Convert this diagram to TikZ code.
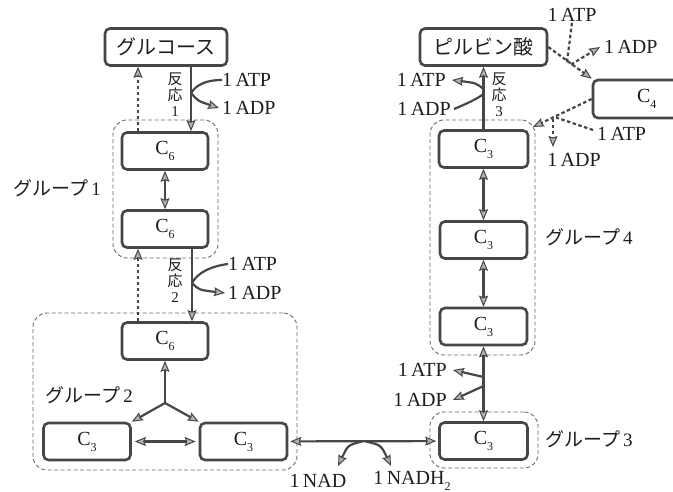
\documentclass[tikz,border=0pt]{standalone}
\usepackage{fontspec}
\setmainfont{Liberation Serif}
\newfontfamily\cjk{Noto Sans CJK JP}
\usetikzlibrary{arrows.meta}
\definecolor{linec}{RGB}{70,70,70}
\definecolor{textc}{RGB}{30,30,30}
\newcommand\sub[1]{\raisebox{-0.3em}{\fontsize{12}{12}\selectfont #1}}
\begin{document}
\begin{tikzpicture}[x=1pt,y=-1pt,
  >={Stealth[length=11pt,width=9pt,inset=1.5pt,fill=gray!60,line width=1pt]},
  box/.style={draw=linec, line width=2.6pt, rounded corners=5pt, inner sep=0pt,
    minimum height=37pt, text=textc, font=\fontsize{20}{20}\selectfont},
  namebox/.style={box, font=\cjk\fontsize{20}{20}\selectfont},
  grp/.style={draw=linec!80, line width=0.9pt, dash pattern=on 4pt off 2.5pt,
    rounded corners=14pt, inner sep=0pt},
  arr/.style={draw=linec, line width=2.2pt},
  darr/.style={arr, dash pattern=on 3.5pt off 2.5pt},
  lbl/.style={text=textc, inner sep=0pt, font=\fontsize{20}{20}\selectfont},
  glbl/.style={lbl, font=\cjk\fontsize{19}{19}\selectfont},
  rlbl/.style={text=textc, inner sep=0pt, align=center,
    font=\cjk\fontsize{15}{16}\selectfont}]
\useasboundingbox (0,0) rectangle (673,492);
\fill[white] (0,0) rectangle (673,492);
\clip (0,0) rectangle (673,492);

% dashed group outlines
\node[grp, minimum width=105pt, minimum height=138pt] (g1) at (165.5,189) {};
\node[grp, minimum width=264pt, minimum height=157pt] (g2) at (165,391.5) {};
\node[grp, minimum width=108pt, minimum height=56pt] (g3) at (484,440) {};
\node[grp, minimum width=105pt, minimum height=235pt] (g4) at (482.5,237.5) {};

% compound boxes
\node[namebox, minimum width=122pt] (glu) at (166,47) {グルコース};
\node[box, minimum width=86pt] (c6a) at (165,151) {C\sub{6}};
\node[box, minimum width=86pt] (c6b) at (165,229) {C\sub{6}};
\node[box, minimum width=86pt] (c6c) at (165,341) {C\sub{6}};
\node[box, minimum width=87pt] (c3l) at (87,441.5) {C\sub{3}};
\node[box, minimum width=87pt] (c3r) at (243.5,441.5) {C\sub{3}};
\node[box, minimum width=88pt] (c3g) at (483.5,441) {C\sub{3}};
\node[box, minimum width=87pt] (c3d) at (483.5,326.5) {C\sub{3}};
\node[box, minimum width=87pt] (c3m) at (483.5,240) {C\sub{3}};
\node[box, minimum width=89pt] (c3t) at (483.5,149) {C\sub{3}};
\node[namebox, minimum width=127pt] (pyr) at (483.5,47) {ピルビン酸};
\node[box, minimum width=110pt, minimum height=38pt, text width=94pt, align=left] (c4) at (648,99) {\hspace{36pt}C\sub{4}};

% group names
\node[glbl] (n1) at (57,188) {グループ\,\rmfamily 1};
\node[glbl] (n2) at (89,395) {グループ\,\rmfamily 2};
\node[glbl, anchor=west] (n3) at (545,439) {グループ\,\rmfamily 3};
\node[glbl, anchor=west] (n4) at (545,237) {グループ\,\rmfamily 4};

% reaction names
\node[rlbl] (re1) at (175,95) {反\\応\\\rmfamily 1};
\node[rlbl] (re2) at (175,281) {反\\応\\\rmfamily 2};
\node[rlbl] (re3) at (499,95) {反\\応\\\rmfamily 3};

% side products
\node[lbl, anchor=west] (atp1) at (222,80) {1\,ATP};
\node[lbl, anchor=west] (adp1) at (222,108) {1\,ADP};
\node[lbl, anchor=west] (atp2) at (228,264) {1\,ATP};
\node[lbl, anchor=west] (adp2) at (228,293) {1\,ADP};
\node[lbl, anchor=east] (atp3) at (446,80) {1\,ATP};
\node[lbl, anchor=east] (adp3) at (451,109) {1\,ADP};
\node[lbl] (atp4) at (572,15) {1\,ATP};
\node[lbl, anchor=west] (adp4) at (604,47) {1\,ADP};
\node[lbl, anchor=west] (atp5) at (597,134) {1\,ATP};
\node[lbl] (adp5) at (574,160) {1\,ADP};
\node[lbl, anchor=east] (atp6) at (447,370) {1\,ATP};
\node[lbl, anchor=east] (adp6) at (447,400) {1\,ADP};
\node[lbl] (nad) at (318,481) {1\,NAD};
\node[lbl] (nadh) at (412,481) {1\,NADH\sub{2}};

% branch points on the main connectors
\coordinate (b1) at (191,93);
\coordinate (b2) at (192,283);
\coordinate (b3) at (483.5,94);
\coordinate (b3a) at (483.5,89);
\coordinate (b4) at (567,62);
\coordinate (b4a) at (571,64.5);
\coordinate (b5) at (556,117.5);
\coordinate (b5a) at (553,119);
\coordinate (b6a) at (483.5,377);
\coordinate (b6b) at (483.5,386);
\coordinate (b7a) at (362,441.5);
\coordinate (b7b) at (366,441.5);
\coordinate (c3tip) at (533,127);
\coordinate (nadtip) at (338,466);
\coordinate (nadhtip) at (391,466);
\coordinate (adp5tip) at (553,147);

% glucose -> group 1 -> group 2
\draw[arr,->] ([xshift=25pt]glu.south) -- ([xshift=26pt]c6a.north);
\draw[darr,->] ([xshift=-27pt]c6a.north) -- ([xshift=-28pt]glu.south);
\draw[arr,<->] (c6a) -- (c6b);
\draw[arr,->] ([xshift=27pt]c6b.south) -- ([xshift=27pt]c6c.north);
\draw[darr,->] ([xshift=-27pt]c6c.north) -- ([xshift=-27pt]c6b.south);

% splitting of C6
\coordinate (jn) at (165,403);
\draw[arr,->] (jn) -- (c6c.south);
\draw[arr,->] (jn) -- (c3l.north east);
\draw[arr,->] (jn) -- (c3r.north west);
\draw[arr,<->,shorten <=3pt,shorten >=3pt] (c3l) -- (c3r);
\draw[arr,<->,shorten <=2pt,shorten >=2pt] (c3r) -- (c3g);

% group 3 -> group 4 -> pyruvate
\draw[arr,<->] (c3g) -- (c3d);
\draw[arr,<->] (c3d) -- (c3m);
\draw[arr,<->] (c3m) -- (c3t);
\draw[arr,->] (c3t) -- (pyr);

% pyruvate -> C4 -> C3
\draw[darr,->] (pyr.east) -- (c4.north west);
\draw[darr,->] (c4.west) -- (c3tip);

% energy side reactions
\draw[arr] (b1) .. controls (197,84) and (207,80) .. (atp1.west);
\draw[arr,->] (b1) .. controls (198,101) .. ([xshift=-3pt]adp1.west);
\draw[arr] (b2) .. controls (198,272) and (212,266) .. (atp2.west);
\draw[arr,->] (b2) .. controls (199,290) .. ([xshift=-3pt]adp2.west);
\draw[arr] ([xshift=3pt]adp3.east) .. controls (466,104) and (477,99) .. (b3);
\draw[arr,->] (b3a) .. controls (476,83) .. ([xshift=6pt]atp3.east);
\draw[darr] ([yshift=-1pt]atp4.south) -- (b4);
\draw[darr,->] (b4a) -- ([xshift=-4pt]adp4.west);
\draw[darr] ([shift={(-4pt,4pt)}]atp5.west) -- (b5);
\draw[darr,->] (b5a) -- (adp5tip);
\draw[arr,->] (b6a) -- ([xshift=6pt]atp6.east);
\draw[arr,->] (b6b) -- ([xshift=6pt]adp6.east);
\draw[arr,->] (b7a) .. controls (348,445) .. (nadtip);
\draw[arr,->] (b7b) .. controls (381,445) .. (nadhtip);
\end{tikzpicture}
\end{document}
